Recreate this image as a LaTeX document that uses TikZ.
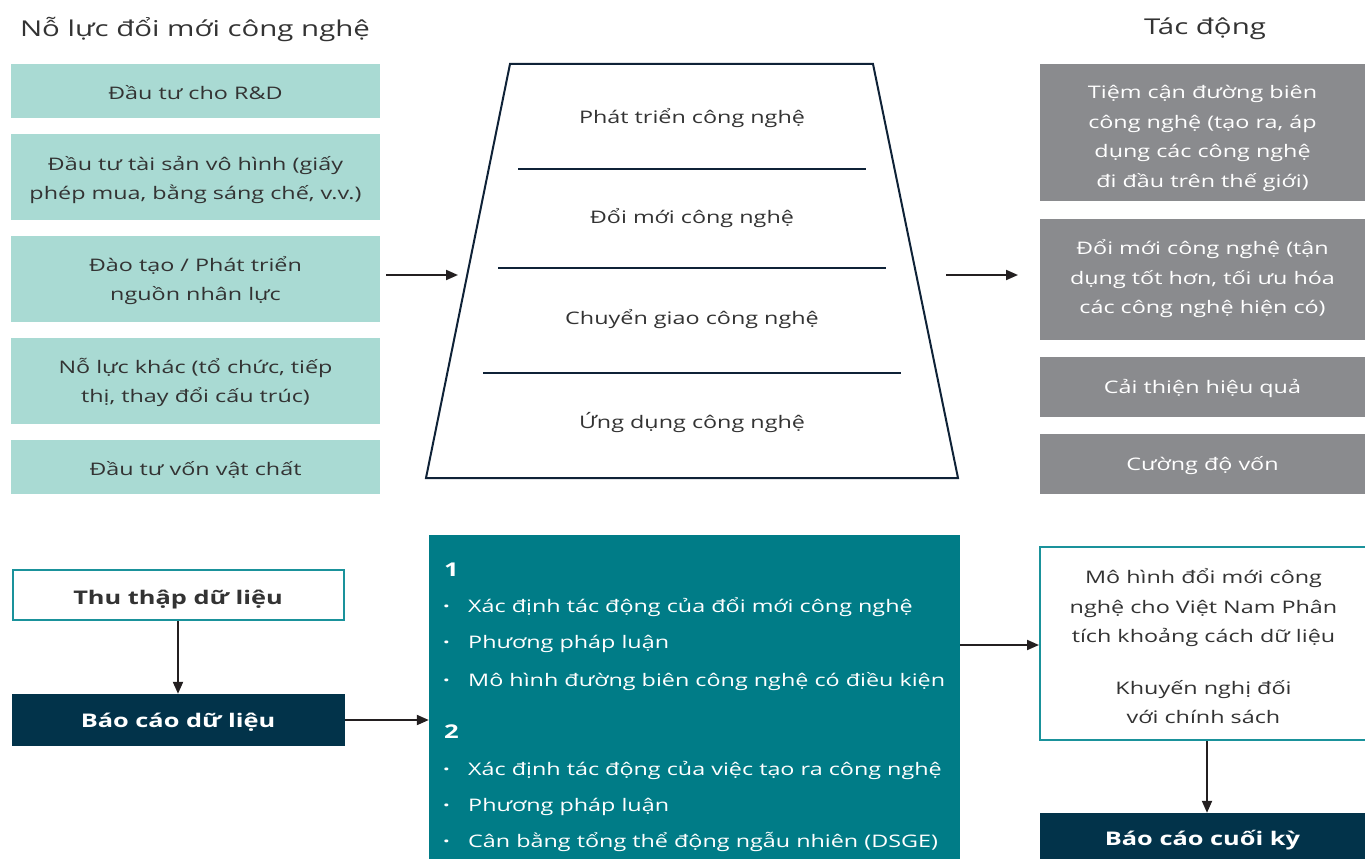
\documentclass[tikz,border=0pt]{standalone}
\usepackage{fontspec}
\setmainfont[FakeStretch=1.35]{Open Sans}
\usetikzlibrary{arrows.meta}
\definecolor{mint}{HTML}{A9DAD3}
\definecolor{greybox}{HTML}{8A8B8E}
\definecolor{navy}{HTML}{02334A}
\definecolor{tealbox}{HTML}{007C87}
\definecolor{tealline}{HTML}{1A929B}
\definecolor{txt}{HTML}{333333}
\definecolor{arr}{HTML}{231F20}
\definecolor{trap}{HTML}{0F2237}
\newcommand\lowered[2]{\raisebox{-#1}[\height][\depth]{\begin{tabular}{@{}c@{}}#2\end{tabular}}}
\begin{document}
\begin{tikzpicture}[x=1pt,y=-1pt,
  bodyfont/.style={font=\fontsize{17.3}{29.5}\selectfont},
  mintbox/.style={bodyfont,fill=mint,text=txt,align=center,inner sep=0pt,minimum width=369pt},
  greyb/.style={bodyfont,fill=greybox,text=white,align=center,inner sep=0pt,minimum width=325pt},
  outlinebox/.style={bodyfont,draw=tealline,line width=2pt,fill=white,text=txt,align=center,inner sep=0pt},
  navybox/.style={font=\fontsize{18.8}{24}\selectfont\bfseries,fill=navy,text=white,inner sep=0pt},
  titlet/.style={font=\fontsize{21.8}{26}\selectfont,text=txt},
  traptext/.style={bodyfont,text=txt},
  itemt/.style={bodyfont,text=white,anchor=base west,inner sep=0pt},
  bullt/.style={font=\fontsize{17.3}{29.5}\selectfont\bfseries,text=white,anchor=base west,inner sep=0pt},
  numt/.style={font=\fontsize{19}{24}\selectfont\bfseries,text=white,anchor=base west,inner sep=0pt},
  conn/.style={draw=arr,line width=2pt,-{Triangle[length=12pt,width=10pt]}},
  sepline/.style={draw=trap,line width=2pt}
]
\useasboundingbox (0,0) rectangle (1365,859);

% titles
\node[titlet] (tleft) at (195,29) {Nỗ lực đổi mới công nghệ};
\node[titlet] (tright) at (1205,29) {Tác động};

% left boxes
\node[mintbox,minimum height=54pt] (e1) at (195.5,91) {\lowered{3pt}{Đầu tư cho R\&D}};
\node[mintbox,minimum height=86pt] (e2) at (195.5,177) {\lowered{2pt}{Đầu tư tài sản vô hình (giấy\\phép mua, bằng sáng chế, v.v.)}};
\node[mintbox,minimum height=86pt] (e3) at (195.5,279) {\lowered{1pt}{Đào tạo / Phát triển\\nguồn nhân lực}};
\node[mintbox,minimum height=86pt] (e4) at (195.5,381) {\lowered{1pt}{Nỗ lực khác (tổ chức, tiếp\\thị, thay đổi cấu trúc)}};
\node[mintbox,minimum height=54pt] (e5) at (195.5,467) {\lowered{3pt}{Đầu tư vốn vật chất}};

% trapezoid
\coordinate (tl) at (510,64);
\coordinate (tr) at (873,64);
\coordinate (br) at (958,478);
\coordinate (bl) at (426,478);
\draw[trap,line width=2pt,line join=miter] (tl) -- (tr) -- (br) -- (bl) -- cycle;
\coordinate (l1a) at (518,169); \coordinate (l1b) at (866,169);
\coordinate (l2a) at (498,268); \coordinate (l2b) at (886,268);
\coordinate (l3a) at (483,373); \coordinate (l3b) at (901,373);
\draw[sepline] (l1a) -- (l1b);
\draw[sepline] (l2a) -- (l2b);
\draw[sepline] (l3a) -- (l3b);
\node[traptext] (p1) at (692,118) {Phát triển công nghệ};
\node[traptext] (p2) at (692,218) {Đổi mới công nghệ};
\node[traptext] (p3) at (692,319) {Chuyển giao công nghệ};
\node[traptext] (p4) at (692,423) {Ứng dụng công nghệ};

% arrows around trapezoid
\coordinate (a1s) at (386,275); \coordinate (a1e) at (458,275);
\coordinate (a2s) at (946,275); \coordinate (a2e) at (1018,275);
\draw[conn] (a1s) -- (a1e);
\draw[conn] (a2s) -- (a2e);

% right grey boxes
\node[greyb,minimum height=137pt] (g1) at (1202.5,132.5) {\lowered{4.5pt}{Tiệm cận đường biên\\công nghệ (tạo ra, áp\\dụng các công nghệ\\đi đầu trên thế giới)}};
\node[greyb,minimum height=121pt] (g2) at (1202.5,279.5) {\lowered{-1pt}{Đổi mới công nghệ (tận\\dụng tốt hơn, tối ưu hóa\\các công nghệ hiện có)}};
\node[greyb,minimum height=60pt] (g3) at (1202.5,387) {\lowered{0.5pt}{Cải thiện hiệu quả}};
\node[greyb,minimum height=60pt] (g4) at (1202.5,464) {\lowered{0.5pt}{Cường độ vốn}};

% bottom left
\node[outlinebox,minimum width=331pt,minimum height=50pt,font=\fontsize{18.8}{24}\selectfont\bfseries] (d1) at (178,595) {\lowered{4.5pt}{Thu thập dữ liệu}};
\node[navybox,minimum width=333pt,minimum height=52pt] (d2) at (178,720) {\lowered{3pt}{Báo cáo dữ liệu}};
\draw[conn] (d1.south) -- (d2.north);

% teal box
\node[fill=tealbox,inner sep=0pt,minimum width=531pt,minimum height=324pt] (tb) at (694.5,697) {};
\draw[conn] (d2.east) -- (tb.west |- d2.east);
\node[numt] (n1) at (444,576) {1};
\node[bullt] (b1) at (443,612) {·};
\node[itemt] (i1) at (468,612) {Xác định tác động của đổi mới công nghệ};
\node[bullt] (b2) at (443,648) {·};
\node[itemt] (i2) at (468,648) {Phương pháp luận};
\node[bullt] (b3) at (443,686) {·};
\node[itemt] (i3) at (468,686) {Mô hình đường biên công nghệ có điều kiện};
\node[numt] (n2) at (444,738) {2};
\node[bullt] (b4) at (443,775) {·};
\node[itemt] (i4) at (468,775) {Xác định tác động của việc tạo ra công nghệ};
\node[bullt] (b5) at (443,811) {·};
\node[itemt] (i5) at (468,811) {Phương pháp luận};
\node[bullt] (b6) at (443,847) {·};
\node[itemt] (i6) at (468,847) {Cân bằng tổng thể động ngẫu nhiên (DSGE)};

% right bottom
\node[outlinebox,minimum width=327pt,minimum height=193pt] (m) at (1203.5,643.5) {\lowered{4.5pt}{Mô hình đổi mới công\\nghệ cho Việt Nam Phân\\tích khoảng cách dữ liệu\\[22pt]Khuyến nghị đối\\với chính sách}};
\coordinate (ta) at (tb.east |- 0,645);
\draw[conn] (ta) -- (m.west |- ta);
\node[navybox,minimum width=325pt,minimum height=46pt] (fin) at (1202.5,836) {\lowered{5pt}{Báo cáo cuối kỳ}};
\draw[conn] (m.south -| 1207,0) -- (fin.north -| 1207,0);
\end{tikzpicture}
\end{document}
